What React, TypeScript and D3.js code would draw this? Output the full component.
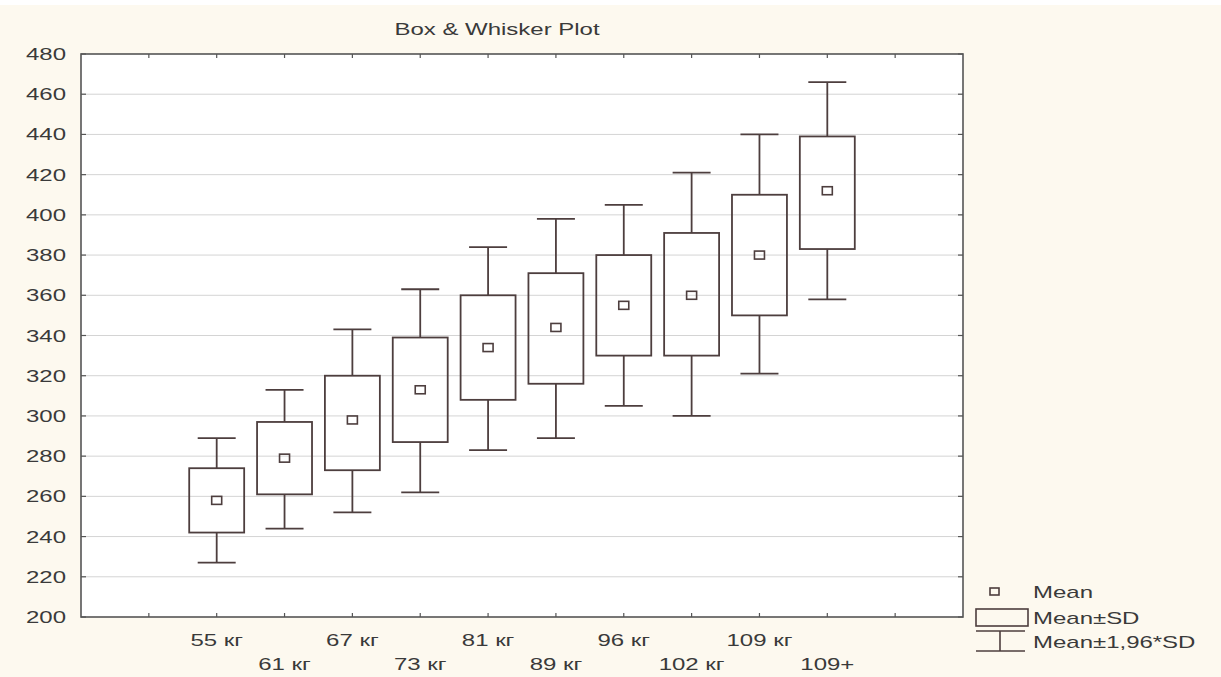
import React, { useEffect, useRef } from 'react';
import * as d3 from 'd3';

// categories and values
const categories = ['55 кг', '61 кг', '67 кг', '73 кг', '81 кг', '89 кг', '96 кг', '102 кг', '109 кг', '109+'];
const means = [258, 279, 298, 313, 334, 344, 355, 360, 380, 412];
const boxLow = [242, 261, 273, 287, 308, 316, 330, 330, 350, 383];
const boxHigh = [274, 297, 320, 339, 360, 371, 380, 391, 410, 439];
const whiskerLow = [227, 244, 252, 262, 283, 289, 305, 300, 321, 358];
const whiskerHigh = [289, 313, 343, 363, 384, 398, 405, 421, 440, 466];
const yTicks = [200, 220, 240, 260, 280, 300, 320, 340, 360, 380, 400, 420, 440, 460, 480];
const legendLabels = ['Mean', 'Mean±SD', 'Mean±1,96*SD'];

const W = 1221;
const H = 677;
const FONT = "'Liberation Sans', Arial, sans-serif";
const TEXT_COLOR = '#3a3a3a';
const LINE_COLOR = '#4d3e3e';
const STRETCH = 1.5;

const App: React.FC = () => {
  const svgRef = useRef<SVGSVGElement>(null);

  useEffect(() => {
    if (!svgRef.current) return;
    const svg = d3.select(svgRef.current);
    svg.selectAll('*').remove();

    const plot = { left: 81, right: 963, top: 54, bottom: 617 };

    const x = d3.scaleLinear().domain([0, 13]).range([plot.left, plot.right]);
    const y = d3.scaleLinear().domain([200, 480]).range([plot.bottom, plot.top]);
    const step = x(1) - x(0);
    const boxW = step * 0.81;
    const capW = step * 0.56;
    const pos = (i: number) => x(i + 2);

    // stretched text helper (reference text is wide)
    const label = (
      tx: number, ty: number, txt: string,
      anchor: string = 'start', size = 16
    ) => {
      svg.append('text')
        .attr('transform', `translate(${tx},${ty}) scale(${STRETCH},1)`)
        .attr('text-anchor', anchor)
        .style('font-family', FONT)
        .style('font-size', `${size}px`)
        .style('fill', TEXT_COLOR)
        .text(txt);
    };

    // background
    svg.append('rect').attr('width', W).attr('height', H).attr('fill', '#ffffff');
    svg.append('rect')
      .attr('x', 0).attr('y', 5)
      .attr('width', W).attr('height', H - 5)
      .attr('fill', '#fdf9ef');

    svg.append('rect')
      .attr('x', plot.left).attr('y', plot.top)
      .attr('width', plot.right - plot.left)
      .attr('height', plot.bottom - plot.top)
      .attr('fill', '#ffffff');

    // grid lines
    svg.append('g')
      .selectAll('line')
      .data(yTicks.filter(t => t > 200 && t < 480))
      .enter()
      .append('line')
      .attr('x1', plot.left).attr('x2', plot.right)
      .attr('y1', d => y(d)).attr('y2', d => y(d))
      .attr('stroke', '#d4d4d4')
      .attr('stroke-width', 1);

    // y ticks, both sides inward
    const tickLen = 5;
    yTicks.forEach(t => {
      svg.append('line')
        .attr('x1', plot.left).attr('x2', plot.left + tickLen)
        .attr('y1', y(t)).attr('y2', y(t))
        .attr('stroke', '#555').attr('stroke-width', 1.2);
      svg.append('line')
        .attr('x1', plot.right).attr('x2', plot.right - tickLen)
        .attr('y1', y(t)).attr('y2', y(t))
        .attr('stroke', '#555').attr('stroke-width', 1.2);
      label(plot.left - 15, y(t) + 6, String(t), 'end');
    });

    // x ticks top and bottom, inward
    d3.range(1, 13).forEach(k => {
      svg.append('line')
        .attr('x1', x(k)).attr('x2', x(k))
        .attr('y1', plot.top).attr('y2', plot.top + 4)
        .attr('stroke', '#555').attr('stroke-width', 1.2);
      svg.append('line')
        .attr('x1', x(k)).attr('x2', x(k))
        .attr('y1', plot.bottom).attr('y2', plot.bottom - 4)
        .attr('stroke', '#555').attr('stroke-width', 1.2);
    });

    // frame
    svg.append('rect')
      .attr('x', plot.left).attr('y', plot.top)
      .attr('width', plot.right - plot.left)
      .attr('height', plot.bottom - plot.top)
      .attr('fill', 'none')
      .attr('stroke', '#555')
      .attr('stroke-width', 1.6);

    // boxes and whiskers
    const g = svg.append('g')
      .attr('stroke', LINE_COLOR)
      .attr('stroke-width', 1.8)
      .attr('fill', 'none');

    categories.forEach((c, i) => {
      const cx = pos(i);
      // whiskers
      g.append('line')
        .attr('x1', cx).attr('x2', cx)
        .attr('y1', y(boxHigh[i])).attr('y2', y(whiskerHigh[i]));
      g.append('line')
        .attr('x1', cx).attr('x2', cx)
        .attr('y1', y(boxLow[i])).attr('y2', y(whiskerLow[i]));
      g.append('line')
        .attr('x1', cx - capW / 2).attr('x2', cx + capW / 2)
        .attr('y1', y(whiskerHigh[i])).attr('y2', y(whiskerHigh[i]));
      g.append('line')
        .attr('x1', cx - capW / 2).attr('x2', cx + capW / 2)
        .attr('y1', y(whiskerLow[i])).attr('y2', y(whiskerLow[i]));
      // box
      g.append('rect')
        .attr('x', cx - boxW / 2)
        .attr('y', y(boxHigh[i]))
        .attr('width', boxW)
        .attr('height', y(boxLow[i]) - y(boxHigh[i]));
      // mean marker
      g.append('rect')
        .attr('x', cx - 5).attr('y', y(means[i]) - 4)
        .attr('width', 10).attr('height', 8)
        .attr('stroke-width', 1.6);

      // category labels, alternating rows
      const row = i % 2 === 0 ? 646 : 670;
      label(cx, row, c, 'middle');
    });

    // title
    label(497, 35, 'Box & Whisker Plot', 'middle');

    // legend
    const lg = svg.append('g')
      .attr('stroke', LINE_COLOR)
      .attr('stroke-width', 1.6)
      .attr('fill', 'none');
    lg.append('rect').attr('x', 990).attr('y', 588).attr('width', 9).attr('height', 7);
    lg.append('rect').attr('x', 976).attr('y', 609).attr('width', 52).attr('height', 17);
    lg.append('line').attr('x1', 976).attr('x2', 1025).attr('y1', 631).attr('y2', 631);
    lg.append('line').attr('x1', 1000).attr('x2', 1000).attr('y1', 631).attr('y2', 651);
    lg.append('line').attr('x1', 976).attr('x2', 1025).attr('y1', 651).attr('y2', 651);

    label(1033, 598, legendLabels[0]);
    label(1033, 624, legendLabels[1]);
    label(1033, 648, legendLabels[2]);
  }, []);

  return (
    <svg
      ref={svgRef}
      width={W}
      height={H}
      style={{ position: 'absolute', left: 0, top: 0, display: 'block' }}
    />
  );
};

export default App;
